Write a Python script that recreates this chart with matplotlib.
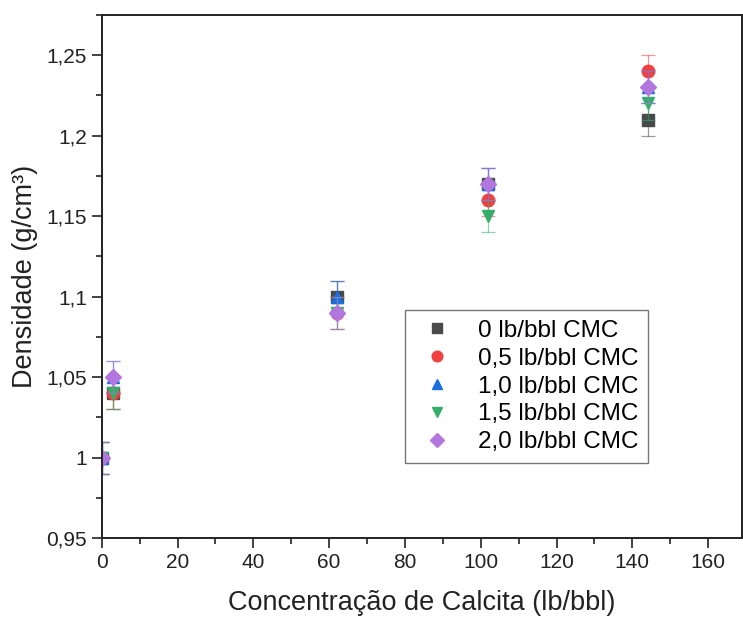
import matplotlib
matplotlib.use("Agg")
import matplotlib.pyplot as plt
from matplotlib.lines import Line2D
from matplotlib.ticker import MultipleLocator, FuncFormatter

plt.rcParams['font.family'] = ['Liberation Sans', 'DejaVu Sans']

# Calcite concentration (lb/bbl)
calcita = [0, 3, 62, 102, 144]

# Density (g/cm3) per CMC concentration
dens_0_0 = [1.00, 1.04, 1.10, 1.17, 1.21]
dens_0_5 = [1.00, 1.04, 1.09, 1.16, 1.24]
dens_1_0 = [1.00, 1.05, 1.10, 1.17, 1.23]
dens_1_5 = [1.00, 1.04, 1.09, 1.15, 1.22]
dens_2_0 = [1.00, 1.05, 1.09, 1.17, 1.23]
erro = [0.01, 0.01, 0.01, 0.01, 0.01]

labels = ["0 lb/bbl CMC", "0,5 lb/bbl CMC", "1,0 lb/bbl CMC",
          "1,5 lb/bbl CMC", "2,0 lb/bbl CMC"]
series = [dens_0_0, dens_0_5, dens_1_0, dens_1_5, dens_2_0]
markers = ["s", "o", "^", "v", "D"]
colors = ["#4a4a4a", "#F14040", "#1A6FDF", "#37AD6B", "#B177DE"]
sizes = [8, 9, 9, 9, 8]

fig = plt.figure(figsize=(7.43, 6.18), dpi=100)
ax = fig.add_axes([0.137, 0.129, 0.862, 0.847])

handles = []
for y, lab, m, c, s in zip(series, labels, markers, colors, sizes):
    ax.errorbar(calcita, y, yerr=erro, fmt="none", ecolor=c, elinewidth=0.9,
                capsize=5, capthick=0.9, alpha=0.55)
    ax.plot(calcita, y, linestyle="none", marker=m, color=c, ms=s, mec=c)
    handles.append(Line2D([], [], linestyle="none", marker=m, color=c,
                          ms=s * 0.85, mec=c, label=lab))

ax.set_xlim(0, 169)
ax.set_ylim(0.95, 1.275)
ax.xaxis.set_major_locator(MultipleLocator(20))
ax.xaxis.set_minor_locator(MultipleLocator(10))
ax.yaxis.set_major_locator(MultipleLocator(0.05))
ax.yaxis.set_minor_locator(MultipleLocator(0.025))


def virgula(v, pos):
    txt = f"{v:.2f}".rstrip("0").rstrip(".")
    return txt.replace(".", ",")


ax.yaxis.set_major_formatter(FuncFormatter(virgula))
ax.xaxis.set_major_formatter(FuncFormatter(lambda v, p: f"{v:.0f}"))

ax.tick_params(which="both", direction="out", top=False, right=False,
               width=1.2, labelsize=15, colors="#222222")
ax.tick_params(which="major", length=7)
ax.tick_params(which="minor", length=4)
for sp in ax.spines.values():
    sp.set_linewidth(1.4)
    sp.set_color("#222222")

ax.set_xlabel("Concentração de Calcita (lb/bbl)", fontsize=19.5,
              color="#222222", labelpad=13)
ax.set_ylabel("Densidade (g/cm³)", fontsize=19.5, color="#222222",
              labelpad=6)

leg = ax.legend(handles=handles, loc="lower left",
                bbox_to_anchor=(0.474, 0.143),
                fontsize=17.5, frameon=True, fancybox=False,
                edgecolor="#555555", handletextpad=0.75, borderpad=0.42,
                labelspacing=0.24, handlelength=1.8, borderaxespad=0)
leg.get_frame().set_linewidth(1.0)

fig.savefig("out.png", dpi=100)
